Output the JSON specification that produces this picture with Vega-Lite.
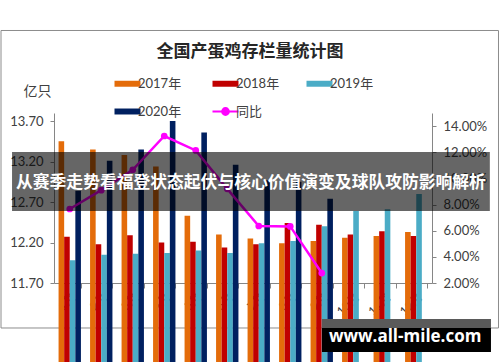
{
  "$schema": "https://vega.github.io/schema/vega-lite/v6.json",
  "width": 378,
  "height": 170,
  "autosize": "none",
  "padding": {"left": 54, "top": 113, "right": 68, "bottom": 79},
  "background": "white",
  "config": {
    "view": {"stroke": null},
    "font": "Lato",
    "axis": {"labelFont": "Lato", "labelColor": "#404040", "domainColor": "#868686", "tickColor": "#868686", "grid": false}
  },
  "title": {
    "text": "全国产蛋鸡存栏量统计图",
    "font": "Noto Sans CJK SC",
    "fontSize": 17,
    "fontWeight": "bold",
    "color": "#262626",
    "anchor": "middle",
    "frame": "group",
    "dx": 7,
    "offset": -31
  },
  "datasets": {
    "main": [
      {"month": "1月", "series": "2017年", "value": 13.45},
      {"month": "1月", "series": "2018年", "value": 12.27},
      {"month": "1月", "series": "2019年", "value": 11.98},
      {"month": "1月", "series": "2020年", "value": 12.84},
      {"month": "2月", "series": "2017年", "value": 13.35},
      {"month": "2月", "series": "2018年", "value": 12.18},
      {"month": "2月", "series": "2019年", "value": 12.05},
      {"month": "2月", "series": "2020年", "value": 13.21},
      {"month": "3月", "series": "2017年", "value": 13.28},
      {"month": "3月", "series": "2018年", "value": 12.29},
      {"month": "3月", "series": "2019年", "value": 12.06},
      {"month": "3月", "series": "2020年", "value": 13.35},
      {"month": "4月", "series": "2017年", "value": 13.14},
      {"month": "4月", "series": "2018年", "value": 12.20},
      {"month": "4月", "series": "2019年", "value": 12.07},
      {"month": "4月", "series": "2020年", "value": 13.70},
      {"month": "5月", "series": "2017年", "value": 12.53},
      {"month": "5月", "series": "2018年", "value": 12.21},
      {"month": "5月", "series": "2019年", "value": 12.10},
      {"month": "5月", "series": "2020年", "value": 13.56},
      {"month": "6月", "series": "2017年", "value": 12.30},
      {"month": "6月", "series": "2018年", "value": 12.14},
      {"month": "6月", "series": "2019年", "value": 12.07},
      {"month": "6月", "series": "2020年", "value": 13.16},
      {"month": "7月", "series": "2017年", "value": 12.25},
      {"month": "7月", "series": "2018年", "value": 12.18},
      {"month": "7月", "series": "2019年", "value": 12.19},
      {"month": "7月", "series": "2020年", "value": 12.97},
      {"month": "8月", "series": "2017年", "value": 12.19},
      {"month": "8月", "series": "2018年", "value": 12.44},
      {"month": "8月", "series": "2019年", "value": 12.22},
      {"month": "8月", "series": "2020年", "value": 12.95},
      {"month": "9月", "series": "2017年", "value": 12.22},
      {"month": "9月", "series": "2018年", "value": 12.42},
      {"month": "9月", "series": "2019年", "value": 12.40},
      {"month": "9月", "series": "2020年", "value": 12.74},
      {"month": "10月", "series": "2017年", "value": 12.26},
      {"month": "10月", "series": "2018年", "value": 12.30},
      {"month": "10月", "series": "2019年", "value": 12.59},
      {"month": "11月", "series": "2017年", "value": 12.28},
      {"month": "11月", "series": "2018年", "value": 12.34},
      {"month": "11月", "series": "2019年", "value": 12.61},
      {"month": "12月", "series": "2017年", "value": 12.33},
      {"month": "12月", "series": "2018年", "value": 12.28},
      {"month": "12月", "series": "2019年", "value": 12.80},
      {"month": "1月", "series": "同比", "value": 0.0766},
      {"month": "2月", "series": "同比", "value": 0.091},
      {"month": "3月", "series": "同比", "value": 0.1066},
      {"month": "4月", "series": "同比", "value": 0.1324},
      {"month": "5月", "series": "同比", "value": 0.1214},
      {"month": "6月", "series": "同比", "value": 0.092},
      {"month": "7月", "series": "同比", "value": 0.0636},
      {"month": "8月", "series": "同比", "value": 0.0633},
      {"month": "9月", "series": "同比", "value": 0.0276}
    ]
  },
  "layer": [
    {
      "data": {"values": [{}]},
      "mark": {"type": "rect", "fill": null, "stroke": "#8c8c8c", "strokeWidth": 1},
      "encoding": {
        "x": {"datum": -0.1402, "type": "quantitative", "scale": {"domain": [0, 1]}, "axis": null},
        "x2": {"datum": 1.1759},
        "y": {"datum": 1.4853, "type": "quantitative", "scale": {"domain": [0, 1]}, "axis": null},
        "y2": {"datum": -0.2647}
      }
    },
    {
      "data": {"name": "main"},
      "layer": [
        {
          "transform": [{"filter": "datum.series !== '同比'"}],
          "mark": {"type": "bar"},
          "encoding": {
            "x": {
              "field": "month", "type": "nominal",
              "scale": {"domain": ["1月","2月","3月","4月","5月","6月","7月","8月","9月","10月","11月","12月"], "paddingInner": 0.29, "paddingOuter": 0.145},
              "axis": {"title": null, "labelAngle": -45, "labelFontSize": 12, "labelFont": "Lato, Noto Sans CJK SC", "tickBand": "extent", "tickSize": 5, "labelPadding": 3}
            },
            "xOffset": {
              "field": "series", "type": "nominal",
              "scale": {"domain": ["2017年","2018年","2019年","2020年"], "paddingInner": 0, "paddingOuter": 0}
            },
            "y": {
              "field": "value", "type": "quantitative",
              "scale": {"domain": [11.7, 13.8], "zero": false, "nice": false},
              "axis": {
                "values": [11.7, 12.2, 12.7, 13.2, 13.7], "format": ".2f",
                "labelFontSize": 13, "tickSize": 4, "labelPadding": 7,
                "title": "亿只", "titleAngle": 0, "titleX": -17, "titleY": -22,
                "titleAlign": "center", "titleBaseline": "middle",
                "titleFont": "Noto Sans CJK SC", "titleFontSize": 14, "titleFontWeight": "normal", "titleColor": "#404040"
              }
            },
            "color": {
              "field": "series", "type": "nominal",
              "scale": {"domain": ["2017年","2018年","2019年","2020年","同比"], "range": ["#E46C0A","#C00000","#4BACC6","#002060","#FF00FF"]},
              "legend": {
                "title": null, "orient": "none", "legendX": 67, "legendY": -36,
                "direction": "horizontal",
                "columns": 3, "columnPadding": 26, "rowPadding": 13, "padding": 0,
                "symbolSize": 676, "symbolType": "M-1,-0.23H1V0.23H-1Z",
                "labelOffset": 4, "labelFontSize": 13, "labelFont": "Lato, Noto Sans CJK SC", "labelColor": "#404040",
                "encode": {
                  "symbols": {
                    "update": {
                      "shape": {"signal": "datum.value === '同比' ? 'M-1,0H1M-0.26,0A0.26,0.26 0 1,1 0.26,0A0.26,0.26 0 1,1 -0.26,0Z' : 'M-1,-0.23H1V0.23H-1Z'"},
                      "fill": {"scale": "color", "field": "value"},
                      "stroke": {"scale": "color", "field": "value"},
                      "strokeWidth": {"signal": "datum.value === '同比' ? 2 : 0"},
                      "opacity": {"value": 1},
                      "fillOpacity": {"value": 1},
                      "strokeOpacity": {"value": 1}
                    }
                  }
                }
              }
            }
          }
        },
        {
          "transform": [{"filter": "datum.series === '同比'"}],
          "mark": {"type": "line", "strokeWidth": 2.5, "point": {"filled": true, "size": 45}},
          "encoding": {
            "x": {"field": "month", "type": "nominal"},
            "y": {
              "field": "value", "type": "quantitative",
              "scale": {"domain": [0.02, 0.15], "zero": false, "nice": false},
              "axis": {"orient": "right", "values": [0.02, 0.04, 0.06, 0.08, 0.10, 0.12, 0.14], "format": ".2%", "labelFontSize": 13, "tickSize": 4, "labelPadding": 7, "title": null}
            },
            "color": {"field": "series", "type": "nominal"}
          }
        }
      ],
      "resolve": {"scale": {"y": "independent"}}
    },
    {
      "data": {"values": [{}]},
      "mark": {"type": "rect", "color": "black", "opacity": 0.6},
      "encoding": {
        "x": {"datum": -0.111, "type": "quantitative", "scale": {"domain": [0, 1]}, "axis": null},
        "x2": {"datum": 1.153},
        "y": {"datum": 0.7706, "type": "quantitative", "scale": {"domain": [0, 1]}, "axis": null},
        "y2": {"datum": 0.4235}
      }
    },
    {
      "data": {"values": [{}]},
      "mark": {"type": "text", "color": "white", "font": "Noto Sans CJK SC", "fontSize": 16.8, "fontWeight": "bold", "align": "center", "baseline": "middle"},
      "encoding": {
        "x": {"datum": 0.521, "type": "quantitative", "scale": {"domain": [0, 1]}, "axis": null},
        "y": {"datum": 0.588, "type": "quantitative", "scale": {"domain": [0, 1]}, "axis": null},
        "text": {"value": "从赛季走势看福登状态起伏与核心价值演变及球队攻防影响解析"}
      }
    },
    {
      "data": {"values": [{}]},
      "mark": {"type": "rect", "color": "#5a5a5a"},
      "encoding": {
        "x": {"datum": 0.709, "type": "quantitative", "scale": {"domain": [0, 1]}, "axis": null},
        "x2": {"datum": 1.156},
        "y": {"datum": -0.2118, "type": "quantitative", "scale": {"domain": [0, 1]}, "axis": null},
        "y2": {"datum": -0.265}
      }
    },
    {
      "data": {"values": [{}]},
      "mark": {"type": "rect", "color": "black"},
      "encoding": {
        "x": {"datum": 0.709, "type": "quantitative", "scale": {"domain": [0, 1]}, "axis": null},
        "x2": {"datum": 1.156},
        "y": {"datum": -0.265, "type": "quantitative", "scale": {"domain": [0, 1]}, "axis": null},
        "y2": {"datum": -0.406}
      }
    },
    {
      "data": {"values": [{}]},
      "mark": {"type": "text", "color": "white", "font": "Open Sans", "fontSize": 17, "fontWeight": "bold", "align": "center", "baseline": "middle"},
      "encoding": {
        "x": {"datum": 0.929, "type": "quantitative", "scale": {"domain": [0, 1]}, "axis": null},
        "y": {"datum": -0.318, "type": "quantitative", "scale": {"domain": [0, 1]}, "axis": null},
        "text": {"value": "www.all-mile.com"}
      }
    }
  ],
  "resolve": {"scale": {"x": "independent", "y": "independent"}}
}
